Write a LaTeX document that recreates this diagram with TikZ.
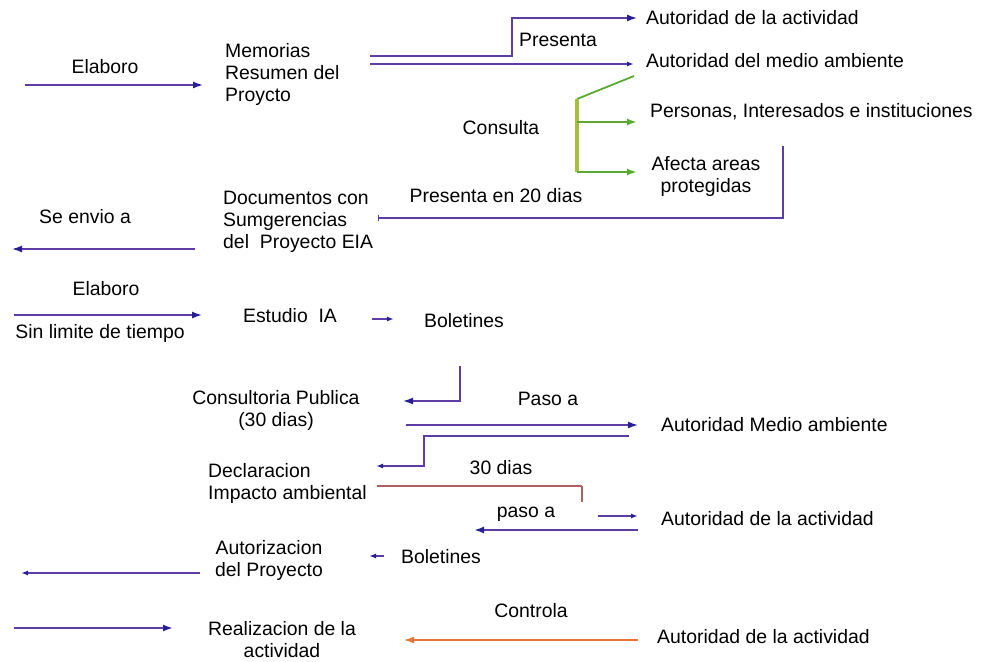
\documentclass[tikz,border=0pt]{standalone}
\usepackage{fontspec}
\setmainfont{Liberation Sans}
\usetikzlibrary{arrows.meta}
\definecolor{navy}{RGB}{40,30,150}
\definecolor{lnc}{RGB}{95,60,165}
\definecolor{grn}{RGB}{90,170,50}
\definecolor{olv}{RGB}{165,190,60}
\definecolor{org}{RGB}{235,115,55}
\definecolor{brn}{RGB}{175,95,95}
\begin{document}
\begin{tikzpicture}[x=1pt,y=-1pt,
  lbl/.style={inner sep=0pt,font=\fontsize{19.4}{22}\selectfont},
  ln/.style={lnc,line width=1.4pt},
  arr/.style={ln,-{Latex[length=10pt,width=7pt,color=navy]}},
  sarr/.style={ln,-{Latex[length=7pt,width=5pt,color=navy]}},
  garr/.style={grn,line width=1.8pt,-{Latex[length=10pt,width=7pt]}},
  oarr/.style={org,line width=1.4pt,-{Latex[length=10pt,width=7pt]}},
  bar/.style={ln,-{Bar[width=6pt]}}]
\useasboundingbox (0,0) rectangle (984,661);

% Row 1
\node[lbl] (elab1) at (105,67) {Elaboro};
\coordinate (a1s) at (25,85); \coordinate (a1e) at (203,85);
\draw[arr] (a1s) -- (a1e);
\node[lbl,align=left,anchor=west] (mem) at (225,74) {Memorias\\Resumen del\\Proycto};
\node[lbl,anchor=west] (aa1) at (646,18) {Autoridad de la actividad};
\node[lbl,anchor=west] (amb1) at (646,61) {Autoridad del medio ambiente};
\node[lbl] (pres) at (558,40) {Presenta};
\coordinate (m1) at (370,56); \coordinate (m1b) at (512,56);
\coordinate (m2) at (370,64); \coordinate (m2e) at (634,64);
\draw[arr,shorten >=9pt] (m1) -- (m1b) |- (aa1.west);
\draw[sarr] (m2) -- (m2e);

% Consulta
\node[lbl] (cons) at (501,128) {Consulta};
\node[lbl,anchor=west] (pers) at (650,112) {Personas, Interesados e instituciones};
\node[lbl,align=center] (afec) at (706,176) {Afecta areas\\protegidas};
\coordinate (g0) at (634,76); \coordinate (g1) at (577,99);
\coordinate (g2) at (577,122); \coordinate (g3) at (577,172);
\coordinate (g2e) at (637,122); \coordinate (g3e) at (637,172);
\draw[grn,line width=1.8pt] (g0) -- (g1);
\draw[olv,line width=3.5pt] (g1) -- (g3);
\draw[garr] (g2) -- (g2e);
\draw[garr] (g3) -- (g3e);

% Documentos
\node[lbl] (p20) at (496,196) {Presenta en 20 dias};
\node[lbl,align=left,anchor=west] (doc) at (223,222) {Documentos con\\Sumgerencias\\del\ \ Proyecto EIA};
\coordinate (pv) at (783,146); \coordinate (pc) at (783,218); \coordinate (pe) at (378,218);
\draw[bar] (pv) -- (pc) -- (pe);
\node[lbl] (env) at (85,217) {Se envio a};
\coordinate (es) at (195,249); \coordinate (ee) at (12,249);
\draw[arr] (es) -- (ee);

% Estudio
\node[lbl] (elab2) at (106,289) {Elaboro};
\node[lbl] (sinl) at (100,333) {Sin limite de tiempo};
\coordinate (b1s) at (14,315); \coordinate (b1e) at (202,315);
\draw[arr] (b1s) -- (b1e);
\node[lbl] (est) at (290,316) {Estudio\ \ IA};
\node[lbl] (bol1) at (464,321) {Boletines};
\coordinate (s1) at (372,319); \coordinate (s2) at (394,319);
\draw[sarr] (s1) -- (s2);

% Consultoria
\node[lbl,align=center] (cpub) at (276,410.5) {Consultoria Publica\\(30 dias)};
\coordinate (c1) at (460,366); \coordinate (c2) at (460,401); \coordinate (c3) at (403,401);
\draw[arr] (c1) -- (c2) -- (c3);
\node[lbl] (paso1) at (548,399) {Paso a};
\node[lbl,anchor=west] (amb2) at (661,425) {Autoridad Medio ambiente};
\coordinate (p1) at (406,425); \coordinate (p2) at (638,425);
\draw[arr] (p1) -- (p2);

% Declaracion
\node[lbl,align=left,anchor=west] (decl) at (208,483.5) {Declaracion\\Impacto ambiental};
\coordinate (d1) at (629,436); \coordinate (d2) at (424,436);
\coordinate (d3) at (424,466); \coordinate (d4) at (376,466);
\draw[sarr] (d1) -- (d2) -- (d3) -- (d4);
\node[lbl] (d30) at (501,468) {30 dias};
\coordinate (t1) at (377,486); \coordinate (t2) at (582,486); \coordinate (t3) at (582,502);
\draw[brn,line width=1.4pt] (t1) -- (t2);
\draw[brn,line width=2.5pt] (t2) -- (t3);
\node[lbl] (paso2) at (526,514) {paso a};
\node[lbl,anchor=west] (aa2) at (661,519) {Autoridad de la actividad};
\coordinate (q1) at (598,516); \coordinate (q2) at (638,516);
\draw[sarr] (q1) -- (q2);
\coordinate (r1) at (638,530); \coordinate (r2) at (474,530);
\draw[arr,line width=1.9pt] (r1) -- (r2);

% Autorizacion
\node[lbl,align=center] (aut) at (269,560) {Autorizacion\\del Proyecto};
\node[lbl] (bol2) at (441,557) {Boletines};
\coordinate (u1) at (384,556); \coordinate (u2) at (369,556);
\draw[sarr] (u1) -- (u2);
\coordinate (v1) at (200,573); \coordinate (v2) at (21,573);
\draw[sarr] (v1) -- (v2);

% Realizacion
\coordinate (w1) at (14,628); \coordinate (w2) at (173,628);
\draw[arr,line width=1.7pt] (w1) -- (w2);
\node[lbl,align=center] (real) at (282,640) {Realizacion de la\\actividad};
\node[lbl] (ctrl) at (531,611) {Controla};
\node[lbl,anchor=west] (aa3) at (657,637) {Autoridad de la actividad};
\coordinate (o1) at (638,640); \coordinate (o2) at (404,640);
\draw[oarr] (o1) -- (o2);
\end{tikzpicture}
\end{document}
